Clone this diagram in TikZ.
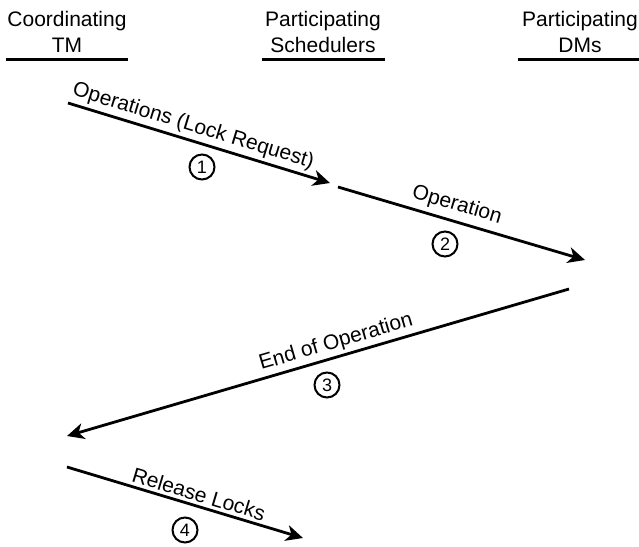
\documentclass[tikz,border=0pt]{standalone}
\usepackage{fontspec}
\setmainfont{Liberation Sans}
\usetikzlibrary{arrows.meta,positioning}

\begin{document}
\begin{tikzpicture}[
    x=1pt, y=-1pt,
    every node/.style={font=\fontsize{21}{26}\selectfont},
    party/.style={align=center, inner sep=0pt, anchor=north},
    rule/.style={draw, line width=2.8pt},
    msg/.style={draw, line width=2.8pt, -{Stealth[length=17pt, width=16pt, inset=5pt]}},
    lbl/.style={sloped, above, inner sep=3pt},
    stepnum/.style={draw, circle, line width=2pt, minimum size=25pt, inner sep=0pt, font=\fontsize{18}{18}\selectfont}
]
    \useasboundingbox (0,0) rectangle (639,546);

    \node[party] (tm) at (67,11) {Coordinating\\TM};
    \node[party] (sched) at (323,11) {Participating\\Schedulers};
    \node[party] (dms) at (580,11) {Participating\\DMs};

    \draw[rule] ([xshift=-61pt, yshift=-7pt]tm.south) -- ([xshift=61pt, yshift=-7pt]tm.south);
    \draw[rule] ([xshift=-61pt, yshift=-7pt]sched.south) -- ([xshift=62pt, yshift=-7pt]sched.south);
    \draw[rule] ([xshift=-62pt, yshift=-7pt]dms.south) -- ([xshift=61pt, yshift=-7pt]dms.south);

    \coordinate (req-start) at (68,103);
    \coordinate (req-end) at (330,183);
    \coordinate (op-start) at (338,187);
    \coordinate (op-end) at (585,260);
    \coordinate (eoo-start) at (569,289);
    \coordinate (eoo-end) at (67,436);
    \coordinate (rel-start) at (67,467);
    \coordinate (rel-end) at (303,538);

    \draw[msg] (req-start) -- node[lbl, pos=0.462] {Operations (Lock Request)} (req-end);
    \draw[msg] (op-start) -- node[lbl, pos=0.463, inner sep=5pt] {Operation} (op-end);
    \draw[msg] (eoo-start) -- node[lbl, pos=0.456] {End of Operation} (eoo-end);
    \draw[msg] (rel-start) -- node[lbl, pos=0.544] {Release Locks} (rel-end);

    \node[stepnum] (n1) at (202,167) {1};
    \node[stepnum] (n2) at (445,244) {2};
    \node[stepnum] (n3) at (327,385) {3};
    \node[stepnum] (n4) at (185,530) {4};
\end{tikzpicture}
\end{document}
